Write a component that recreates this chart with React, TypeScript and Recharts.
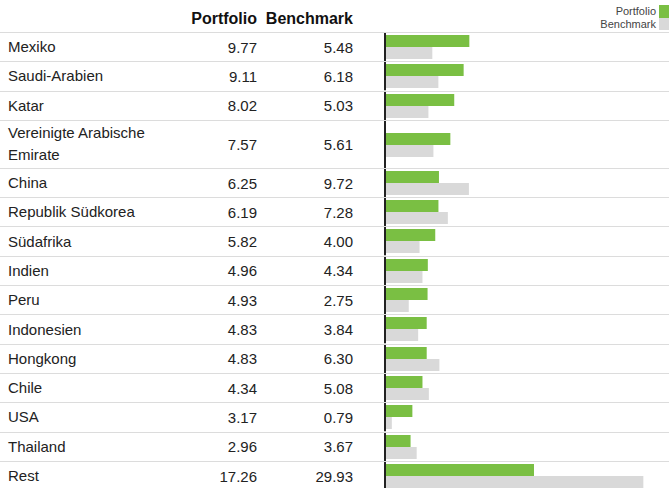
import React from 'react';
import { BarChart, Bar, XAxis, YAxis, ReferenceLine } from 'recharts';

const countries = [
  'Mexiko',
  'Saudi-Arabien',
  'Katar',
  'Vereinigte Arabische Emirate',
  'China',
  'Republik Südkorea',
  'Südafrika',
  'Indien',
  'Peru',
  'Indonesien',
  'Hongkong',
  'Chile',
  'USA',
  'Thailand',
  'Rest',
];
const portfolio = [9.77, 9.11, 8.02, 7.57, 6.25, 6.19, 5.82, 4.96, 4.93, 4.83, 4.83, 4.34, 3.17, 2.96, 17.26];
const benchmark = [5.48, 6.18, 5.03, 5.61, 9.72, 7.28, 4.0, 4.34, 2.75, 3.84, 6.3, 5.08, 0.79, 3.67, 29.93];
const seriesNames = ['Portfolio', 'Benchmark'];

const GREEN = '#7abf43';
const GREY = '#d9d9d9';
const FONT = '"Liberation Sans", Arial, Helvetica, sans-serif';
const ROW_H = 29.3;
const TALL_ROW_H = 48;
const DOMAIN_MAX = 32.9;

const rows = countries.map((name, i) => ({
  name,
  portfolio: portfolio[i],
  benchmark: benchmark[i],
}));

function Row({ row }: { row: { name: string; portfolio: number; benchmark: number } }) {
  const tall = row.name.length > 20;
  const h = tall ? TALL_ROW_H : ROW_H;
  return (
    <div
      style={{
        position: 'relative',
        height: h,
        boxSizing: 'border-box',
        borderTop: '1px solid #dcdcdc',
        display: 'flex',
        alignItems: 'center',
        fontSize: 15,
        color: '#222',
      }}
    >
      <div style={{ position: 'absolute', left: 8, width: 165, lineHeight: '22px' }}>{row.name}</div>
      <div style={{ position: 'absolute', left: 160, width: 97, textAlign: 'right' }}>
        {row.portfolio.toFixed(2)}
      </div>
      <div style={{ position: 'absolute', left: 260, width: 93, textAlign: 'right' }}>
        {row.benchmark.toFixed(2)}
      </div>
      <div style={{ position: 'absolute', left: 383, top: 0 }}>
        <BarChart
          width={286}
          height={h - 1}
          data={[row]}
          layout="vertical"
          margin={{ top: 0, right: 0, bottom: 0, left: 2 }}
          barGap={0}
        >
          <XAxis type="number" domain={[0, DOMAIN_MAX]} hide />
          <YAxis type="category" dataKey="name" hide />
          <Bar dataKey="portfolio" fill={GREEN} barSize={12} isAnimationActive={false} />
          <Bar dataKey="benchmark" fill={GREY} barSize={12} isAnimationActive={false} />
          <ReferenceLine x={0} stroke="#222" strokeWidth={2} ifOverflow="visible" />
        </BarChart>
      </div>
    </div>
  );
}

export default function App() {
  return (
    <div
      style={{
        position: 'absolute',
        left: 0,
        top: 0,
        width: 669,
        height: 488,
        overflow: 'hidden',
        background: '#fff',
        fontFamily: FONT,
      }}
    >
      <div style={{ position: 'relative', height: 32 }}>
        <div
          style={{
            position: 'absolute',
            left: 160,
            width: 97,
            top: 10,
            textAlign: 'right',
            fontWeight: 'bold',
            fontSize: 16,
            color: '#111',
          }}
        >
          {seriesNames[0]}
        </div>
        <div
          style={{
            position: 'absolute',
            left: 253,
            width: 100,
            top: 10,
            textAlign: 'right',
            fontWeight: 'bold',
            fontSize: 16,
            color: '#111',
          }}
        >
          {seriesNames[1]}
        </div>
        <div style={{ position: 'absolute', right: 0, top: 5, fontSize: 11, color: '#444' }}>
          {[GREEN, GREY].map((c, i) => (
            <div key={i} style={{ display: 'flex', alignItems: 'center', justifyContent: 'flex-end', height: 12.5 }}>
              <span style={{ marginRight: 3, lineHeight: '12px' }}>{seriesNames[i]}</span>
              <span style={{ display: 'inline-block', width: 10, height: 12.5, background: c }} />
            </div>
          ))}
        </div>
      </div>
      {rows.map((r) => (
        <Row key={r.name} row={r} />
      ))}
    </div>
  );
}
